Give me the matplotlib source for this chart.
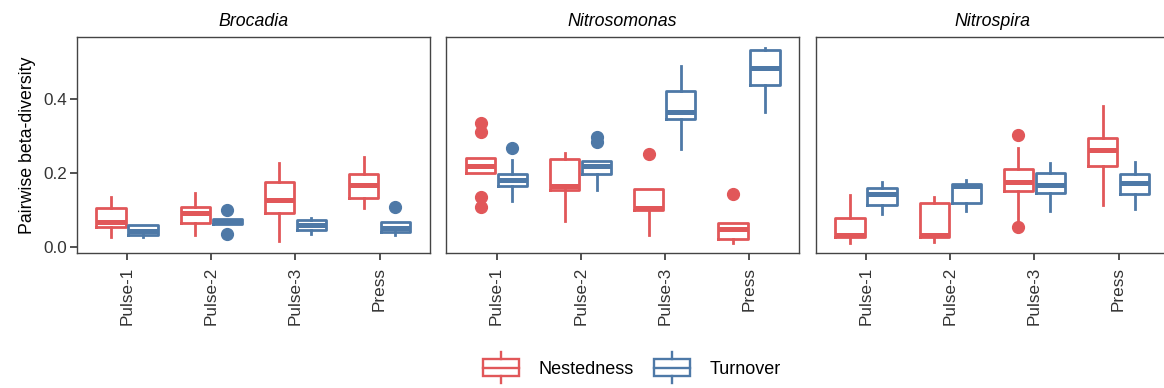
import numpy as np
import matplotlib
matplotlib.use("Agg")
import matplotlib.pyplot as plt
from matplotlib.legend_handler import HandlerBase
from matplotlib.patches import Rectangle
from matplotlib.lines import Line2D

plt.rcParams['font.family'] = ['Liberation Sans', 'DejaVu Sans']

categories = ["Pulse-1", "Pulse-2", "Pulse-3", "Press"]
genera = ["Brocadia", "Nitrosomonas", "Nitrospira"]
components = ["Nestedness", "Turnover"]
colors = ["#E15759", "#4E79A7"]

# box summaries per category: (whisker low, q1, median, q3, whisker high)
brocadia_nest = [(0.029, 0.056, 0.069, 0.105, 0.137), (0.033, 0.065, 0.092, 0.110, 0.146),
                 (0.018, 0.094, 0.128, 0.177, 0.227), (0.105, 0.132, 0.168, 0.198, 0.245)]
brocadia_turn = [(0.028, 0.033, 0.045, 0.060, 0.060), (0.062, 0.062, 0.070, 0.076, 0.076),
                 (0.037, 0.046, 0.060, 0.074, 0.078), (0.033, 0.042, 0.051, 0.069, 0.069)]
brocadia_nest_out = [[], [], [], []]
brocadia_turn_out = [[], [0.101, 0.036], [], [0.108]]

nitrosomonas_nest = [(0.200, 0.200, 0.221, 0.241, 0.241), (0.071, 0.155, 0.165, 0.238, 0.256),
                     (0.033, 0.100, 0.105, 0.158, 0.158), (0.011, 0.022, 0.050, 0.067, 0.067)]
nitrosomonas_turn = [(0.126, 0.166, 0.182, 0.198, 0.236), (0.155, 0.198, 0.220, 0.233, 0.233),
                     (0.265, 0.346, 0.367, 0.423, 0.490), (0.367, 0.439, 0.486, 0.533, 0.538)]
nitrosomonas_nest_out = [[0.335, 0.312, 0.137, 0.110], [], [0.251], [0.143]]
nitrosomonas_turn_out = [[0.268], [0.297, 0.285], [], []]

nitrospira_nest = [(0.012, 0.029, 0.033, 0.078, 0.141), (0.014, 0.029, 0.033, 0.119, 0.137),
                   (0.074, 0.152, 0.177, 0.213, 0.268), (0.114, 0.220, 0.263, 0.295, 0.382)]
nitrospira_turn = [(0.090, 0.114, 0.143, 0.161, 0.177), (0.099, 0.119, 0.165, 0.171, 0.182),
                   (0.099, 0.146, 0.168, 0.200, 0.227), (0.103, 0.144, 0.173, 0.197, 0.230)]
nitrospira_nest_out = [[], [], [0.304, 0.056], []]
nitrospira_turn_out = [[], [], [], []]

panels = [
    (brocadia_nest, brocadia_nest_out, brocadia_turn, brocadia_turn_out),
    (nitrosomonas_nest, nitrosomonas_nest_out, nitrosomonas_turn, nitrosomonas_turn_out),
    (nitrospira_nest, nitrospira_nest_out, nitrospira_turn, nitrospira_turn_out),
]


class BoxKey(HandlerBase):
    # legend key drawn like a small boxplot
    def create_artists(self, legend, orig_handle, xdescent, ydescent,
                       width, height, fontsize, trans):
        c = orig_handle.get_color()
        x0, y0 = -xdescent, -ydescent
        xm = x0 + width / 2
        box = Rectangle((x0, y0 + 0.2 * height), width, 0.6 * height,
                        facecolor="white", edgecolor=c, lw=1.7, transform=trans)
        med = Line2D([x0, x0 + width], [y0 + 0.5 * height] * 2, color=c, lw=1.7, transform=trans)
        w1 = Line2D([xm, xm], [y0 - 0.05 * height, y0 + 0.2 * height], color=c, lw=1.7, transform=trans)
        w2 = Line2D([xm, xm], [y0 + 0.8 * height, y0 + 1.05 * height], color=c, lw=1.7, transform=trans)
        return [box, med, w1, w2]


fig = plt.figure(figsize=(11.64, 3.88), dpi=100)
lefts = [0.0659, 0.3832, 0.7008]
x = np.arange(1, len(categories) + 1)
offsets = [-0.19, 0.19]

for k, (genus, left) in enumerate(zip(genera, lefts)):
    ax = fig.add_axes([left, 0.3487, 0.3035, 0.5552])
    nest, nest_out, turn, turn_out = panels[k]
    for j, (summ, outs) in enumerate([(nest, nest_out), (turn, turn_out)]):
        c = colors[j]
        stats = []
        for s, o in zip(summ, outs):
            stats.append(dict(whislo=s[0], q1=s[1], med=s[2], q3=s[3], whishi=s[4], fliers=o))
        ax.bxp(stats, positions=x + offsets[j], widths=0.35, showcaps=False,
               boxprops=dict(color=c, lw=2.0),
               whiskerprops=dict(color=c, lw=2.0),
               medianprops=dict(color=c, lw=3.6, solid_capstyle='butt'),
               flierprops=dict(marker='o', markerfacecolor=c, markeredgecolor=c, markersize=8.5))
    ax.set_xlim(0.4, 4.6)
    ax.set_ylim(-0.0146, 0.568)
    ax.set_xticks(x)
    ax.set_xticklabels(categories, rotation=90, fontsize=12.3, color='#333333')
    ax.set_title(genus, style='italic', fontsize=12.8, pad=8)
    for sp in ax.spines.values():
        sp.set_color('#444444')
        sp.set_linewidth(1.0)
    ax.tick_params(axis='x', length=5, width=1.2, color='#333333', pad=5)
    if k == 0:
        ax.set_yticks([0.0, 0.2, 0.4])
        ax.set_yticklabels(["0.0", "0.2", "0.4"], fontsize=12.3, color='#333333')
        ax.tick_params(axis='y', length=5, width=1.2, color='#333333', pad=2)
        ax.set_ylabel("Pairwise beta-diversity", fontsize=12.8, labelpad=5)
    else:
        ax.set_yticks([])

handles = [Line2D([], [], color=c) for c in colors]
fig.legend(handles, components, loc='center', bbox_to_anchor=(0.543, 0.052), ncol=2,
           frameon=False, handler_map={Line2D: BoxKey()}, handlelength=2, handleheight=2,
           fontsize=13, handletextpad=1.1, columnspacing=1.1)

fig.savefig("out.png", dpi=100)
